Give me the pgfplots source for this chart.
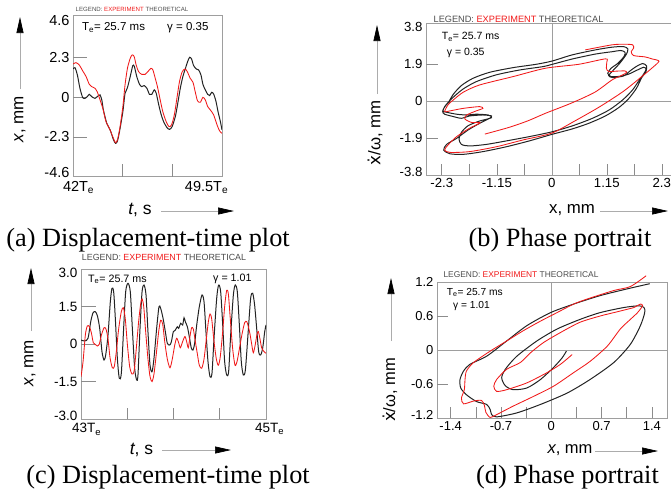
\documentclass[border=0pt]{standalone}
\usepackage{fontspec}
\setmainfont{Liberation Sans}
\newfontfamily\capfont{Liberation Serif}
\newfontfamily\dvs{DejaVu Sans}
\usepackage{pgfplots}
\pgfplotsset{compat=1.18}
\usetikzlibrary{arrows.meta}
\newcommand{\fs}[1]{\fontsize{#1}{#1}\selectfont}
\newcommand{\rb}[2]{\raisebox{#1}[\height][\depth]{#2}}
\definecolor{axgray}{gray}{0.62}
\definecolor{tkgray}{gray}{0.55}
\definecolor{expred}{RGB}{240,25,25}
\definecolor{thblack}{RGB}{35,35,35}
\definecolor{legg}{gray}{0.3}
\pgfplotsset{
 panel/.style={scale only axis, anchor=north west,
  axis line style={axgray, line width=0.7pt},
  tick style={tkgray, line width=0.6pt},
  tick pos=left, tick align=inside, major tick length=0pt,
  ticklabel style={font=\fs{13.5}}},
 th/.style={thblack, line width=1.0pt, smooth, tension=0.45, mark=none},
 ex/.style={expred, line width=0.85pt, smooth, tension=0.45, mark=none},
}
\tikzset{arr/.style={gray!65, line width=0.7pt, -{Triangle[length=16pt,width=7pt,color=black]}}}
\newcommand{\Te}{T\textsubscript{e}}
\newcommand{\legtext}{{\color{legg}LEGEND:} {\color{expred}EXPERIMENT} {\color{legg}THEORETICAL}}
\begin{document}
\begin{tikzpicture}
% ---------------- (a) ----------------
\begin{axis}[panel, at={(73pt,-15.4pt)}, width=149pt, height=161.2pt,
 xmin=42, xmax=49.5, ymin=-4.6, ymax=4.75,
 xtick={42,49.5},
 xticklabels={\makebox[0pt][l]{\hspace*{-10pt}42\Te},\makebox[0pt][l]{\hspace*{-37pt}49.5\Te}},
 xticklabel style={yshift=-1.5pt},
 ytick={-4.6,-2.3,0,2.3,4.6}, yticklabels={\rb{4.3pt}{-4.6},-2.3,0,2.3,\rb{-2.7pt}{4.6}},
 ticklabel style={font=\fs{14.5}},
 extra x ticks={44.5,47}, extra x tick labels={}, extra x tick style={major tick length=13pt},
 extra y ticks={-2.3,0,2.3}, extra y tick labels={}, extra y tick style={major tick length=14pt},
]
\addplot[th] coordinates {(42.00,1.64)(42.10,1.72)(42.22,1.30)(42.35,0.52)(42.49,-0.02)(42.61,-0.06)(42.72,0.04)(42.82,0.17)(42.94,0.04)(43.11,-0.06)(43.28,0.10)(43.36,0.14)(43.45,-0.15)(43.53,-0.73)(43.70,-1.51)(43.87,-1.89)(44.03,-2.44)(44.14,-2.67)(44.24,-2.53)(44.37,-1.80)(44.51,-0.83)(44.62,0.23)(44.74,0.56)(44.88,1.20)(45.01,1.84)(45.09,1.78)(45.21,1.20)(45.35,0.75)(45.46,0.62)(45.58,0.68)(45.72,0.52)(45.85,0.17)(45.97,0.17)(46.09,0.43)(46.19,0.23)(46.30,-0.35)(46.42,-0.93)(46.56,-1.41)(46.73,-1.76)(46.86,-1.86)(46.99,-1.70)(47.15,-1.12)(47.26,-0.44)(47.40,0.52)(47.53,1.20)(47.65,1.64)(47.77,2.07)(47.87,2.32)(47.97,2.22)(48.07,1.84)(48.21,1.64)(48.32,1.59)(48.44,1.30)(48.54,0.75)(48.66,0.43)(48.78,0.17)(48.88,0.10)(48.98,0.29)(49.08,0.19)(49.20,-0.25)(49.30,-0.83)(49.42,-1.41)(49.50,-1.89)};
\addplot[ex] coordinates {(42.00,1.93)(42.15,2.01)(42.32,1.87)(42.49,1.53)(42.66,1.20)(42.82,0.75)(42.94,0.62)(43.11,0.52)(43.23,0.29)(43.36,-0.15)(43.50,-0.64)(43.66,-1.41)(43.83,-1.80)(44.00,-2.28)(44.14,-2.63)(44.25,-2.42)(44.37,-1.70)(44.51,-0.54)(44.62,0.72)(44.74,1.68)(44.88,2.26)(44.98,2.46)(45.08,2.36)(45.18,1.87)(45.30,1.49)(45.46,1.33)(45.63,1.33)(45.80,1.53)(45.92,1.68)(46.02,1.59)(46.14,1.10)(46.25,0.62)(46.39,-0.15)(46.52,-0.83)(46.69,-1.41)(46.83,-1.70)(46.96,-1.60)(47.10,-1.02)(47.23,-0.06)(47.36,0.91)(47.50,1.49)(47.65,1.64)(47.77,1.45)(47.90,1.10)(48.04,0.87)(48.15,0.33)(48.27,-0.21)(48.41,-0.29)(48.54,0.00)(48.66,-0.15)(48.78,-0.54)(48.91,-0.73)(49.08,-1.02)(49.25,-1.60)(49.38,-1.95)(49.50,-2.09)};
\end{axis}
% ---------------- (b) ----------------
\begin{axis}[panel, at={(426pt,-23pt)}, width=251.6pt, height=152pt,
 xmin=-2.63, xmax=2.63, ymin=-3.8, ymax=4.0,
 xtick={-2.3,-1.15,0,1.15,2.3}, xticklabels={-2.3,-1.15,0,1.15,2.3},
 ytick={-3.8,-1.9,0,1.9,3.8}, yticklabels={\rb{2.7pt}{-3.8},-1.9,0,1.9,3.8},
 ticklabel style={font=\fs{13.2}},
 extra x ticks={-2.3,-1.725,-1.15,-0.575,0.575,1.15,1.725,2.3}, extra x tick labels={}, extra x tick style={major tick length=11pt},
 extra y ticks={-1.9,1.9}, extra y tick labels={}, extra y tick style={major tick length=12pt},
]
\draw[axgray, line width=0.6pt] (axis cs:0,-3.8) -- (axis cs:0,4.0);
\draw[axgray, line width=0.6pt] (axis cs:-2.63,0) -- (axis cs:2.63,0);
\addplot[th] coordinates {(-2.17,-0.12)(-2.06,0.34)(-1.89,0.79)(-1.65,1.16)(-1.30,1.47)(-0.81,1.71)(-0.33,1.88)(0.01,2.05)(0.42,2.36)(0.91,2.62)(1.26,2.76)(1.50,2.79)(1.59,2.67)(1.56,2.40)(1.42,1.93)(1.27,1.54)(1.19,1.30)(1.27,1.20)(1.50,1.28)(1.62,1.51)(1.76,1.76)(1.90,1.92)(1.98,1.80)(1.97,1.51)(1.88,1.20)(1.77,0.65)(1.60,0.10)(1.40,-0.34)(1.12,-0.77)(0.77,-1.15)(0.42,-1.44)(0.01,-1.71)(-0.47,-2.05)(-0.95,-2.35)(-1.44,-2.60)(-1.85,-2.74)(-2.13,-2.71)(-2.26,-2.52)(-2.20,-2.23)(-1.99,-1.92)(-1.75,-1.49)(-1.51,-1.15)(-1.30,-0.89)(-1.26,-0.77)(-1.44,-0.72)(-1.72,-0.77)(-1.89,-0.89)(-2.06,-0.80)(-2.24,-0.68)(-2.28,-0.55)(-2.24,-0.29)(-2.15,-0.03)(-2.03,0.26)(-1.85,0.62)(-1.58,0.99)(-1.16,1.34)(-0.67,1.59)(-0.19,1.76)(0.01,1.88)(0.44,2.16)(0.92,2.41)(1.27,2.53)(1.44,2.59)(1.53,2.50)(1.51,2.28)(1.38,1.93)(1.24,1.68)(1.17,1.42)(1.24,1.25)(1.44,1.27)(1.60,1.37)(1.79,1.59)(1.92,1.73)(1.97,1.64)(1.93,1.42)(1.83,1.08)(1.69,0.57)(1.48,0.05)(1.20,-0.46)(0.85,-0.89)(0.44,-1.27)(0.01,-1.58)(-0.47,-1.83)(-0.95,-2.05)(-1.37,-2.23)(-1.72,-2.31)(-1.89,-2.23)(-1.94,-1.95)(-1.89,-1.61)(-1.75,-1.27)(-1.51,-1.03)(-1.26,-0.86)(-1.33,-0.72)(-1.58,-0.68)(-1.78,-0.72)(-1.99,-0.68)(-2.20,-0.58)(-2.28,-0.51)(-2.22,-0.24)(-2.13,-0.03)};
\addplot[ex] coordinates {(-1.40,-1.70)(-0.90,-1.36)(-0.50,-1.02)(-0.13,-0.63)(0.40,-0.12)(0.90,0.45)(1.26,1.08)(1.45,1.30)(1.56,1.45)(1.53,1.54)(1.35,1.53)(1.19,1.51)(1.14,1.68)(1.15,2.00)(1.12,2.16)(0.56,1.88)(-0.13,1.68)(-0.81,1.25)(-1.51,0.82)(-1.85,0.45)(-2.06,0.05)(-2.17,-0.20)(-2.24,-0.55)(-2.13,-0.51)(-1.85,-0.38)(-1.51,-0.29)(-1.44,-0.38)(-1.58,-0.51)(-1.78,-0.72)(-1.82,-0.92)(-1.68,-1.10)(-1.50,-1.12)(-1.72,-1.40)(-1.99,-1.83)(-2.17,-2.26)(-2.24,-2.52)(-2.13,-2.64)(-1.72,-2.60)(-1.16,-2.35)(-0.60,-2.00)(0.00,-1.65)(0.50,-1.00)(1.00,-0.30)(1.50,0.50)(1.88,1.25)(2.09,1.68)(2.24,2.04)(2.09,2.16)(1.95,2.26)(1.71,2.33)(1.66,2.53)(1.71,2.71)(1.69,2.88)(1.53,2.91)(1.26,2.88)(0.70,2.62)};
\end{axis}
% ---------------- (c) ----------------
\begin{axis}[panel, at={(81pt,-269pt)}, width=185pt, height=150pt,
 xmin=43, xmax=45, ymin=-3, ymax=3,
 xtick={43,45},
 xticklabels={\makebox[0pt][l]{\hspace*{-9pt}43\Te},\makebox[0pt][l]{\hspace*{-11pt}45\Te}},
 xticklabel style={yshift=-1pt},
 ytick={-3,-1.5,0,1.5,3}, yticklabels={\rb{3.3pt}{-3.0},-1.5,0,1.5,\rb{-3.5pt}{3.0}},
 extra x ticks={43.5,44,44.5}, extra x tick labels={}, extra x tick style={major tick length=11pt},
 extra y ticks={-1.5,0,1.5}, extra y tick labels={}, extra y tick style={major tick length=15pt},
]
\addplot[th] coordinates {(43.000,0.16)(43.040,0.12)(43.076,0.23)(43.105,0.89)(43.130,1.25)(43.155,1.29)(43.177,1.13)(43.202,0.63)(43.227,-0.31)(43.249,-0.64)(43.267,-0.44)(43.292,0.36)(43.317,1.69)(43.335,2.23)(43.353,2.09)(43.371,1.03)(43.393,-0.57)(43.414,-1.37)(43.436,-1.17)(43.461,0.63)(43.483,2.09)(43.508,2.43)(43.533,2.09)(43.555,0.63)(43.580,-0.97)(43.602,-1.44)(43.616,-1.24)(43.638,0.63)(43.660,2.09)(43.681,2.36)(43.703,1.96)(43.724,0.49)(43.746,-0.84)(43.768,-1.11)(43.789,-0.57)(43.818,0.63)(43.843,1.49)(43.861,1.43)(43.887,1.03)(43.912,0.49)(43.933,0.03)(43.959,-0.04)(43.977,0.09)(43.998,0.49)(44.020,0.56)(44.041,0.69)(44.056,0.63)(44.078,0.83)(44.099,0.76)(44.114,1.05)(44.128,0.89)(44.150,0.69)(44.171,0.29)(44.193,-0.17)(44.211,-0.24)(44.229,0.03)(44.251,0.76)(44.279,1.49)(44.308,1.96)(44.330,1.69)(44.351,0.49)(44.373,-0.71)(44.395,-1.31)(44.416,-1.17)(44.438,0.23)(44.467,1.83)(44.488,2.36)(44.510,2.09)(44.532,0.76)(44.553,-0.71)(44.575,-1.24)(44.596,-1.11)(44.618,0.36)(44.647,1.96)(44.668,2.36)(44.690,2.09)(44.712,0.76)(44.733,-0.71)(44.755,-1.24)(44.777,-1.04)(44.805,0.36)(44.834,1.83)(44.856,2.03)(44.877,1.56)(44.899,0.63)(44.921,-0.31)(44.942,-0.44)(44.964,-0.17)(44.986,0.49)(45.000,0.76)};
\addplot[ex] coordinates {(43.000,-1.31)(43.022,-0.71)(43.047,0.36)(43.068,0.72)(43.090,0.70)(43.112,0.45)(43.133,0.05)(43.155,-0.02)(43.177,-0.08)(43.198,0.00)(43.220,0.35)(43.249,0.65)(43.270,0.60)(43.292,0.20)(43.314,-0.55)(43.339,-0.95)(43.360,-0.90)(43.382,-0.30)(43.407,0.60)(43.436,1.30)(43.458,1.45)(43.479,1.00)(43.501,0.00)(43.526,-0.90)(43.551,-1.20)(43.573,-1.10)(43.595,-0.30)(43.623,0.90)(43.645,1.60)(43.660,1.80)(43.678,1.50)(43.699,0.50)(43.724,-0.60)(43.746,-1.30)(43.768,-1.50)(43.789,-1.20)(43.814,-0.40)(43.840,0.50)(43.861,0.95)(43.883,0.80)(43.905,0.10)(43.933,-0.60)(43.962,-0.95)(43.987,-0.60)(44.013,-0.05)(44.034,0.23)(44.056,0.05)(44.074,-0.15)(44.099,0.10)(44.124,0.30)(44.142,0.10)(44.160,-0.15)(44.178,0.30)(44.196,0.65)(44.214,0.60)(44.236,0.10)(44.258,-0.40)(44.279,-0.85)(44.305,-0.97)(44.330,-0.60)(44.355,0.20)(44.377,0.90)(44.395,1.20)(44.413,1.00)(44.438,0.10)(44.463,-0.60)(44.485,-0.85)(44.506,-0.50)(44.532,0.50)(44.553,1.50)(44.575,2.15)(44.593,2.00)(44.614,1.00)(44.640,-0.20)(44.665,-0.85)(44.687,-0.70)(44.712,-0.20)(44.741,0.40)(44.769,0.85)(44.791,0.90)(44.809,0.70)(44.827,0.40)(44.845,0.00)(44.863,-0.35)(44.885,0.00)(44.903,0.40)(44.917,0.50)(44.935,0.20)(44.953,-0.15)(44.978,-0.30)(45.000,-0.37)};
\end{axis}
% ---------------- (d) ----------------
\begin{axis}[panel, at={(437pt,-282pt)}, width=230pt, height=136pt, clip=false,
 xmin=-1.59, xmax=1.61, ymin=-1.2, ymax=1.2,
 xtick={-1.4,-0.7,0,0.7,1.4}, xticklabels={-1.4,-0.7,0,0.7,1.4},
 ytick={-1.2,-0.6,0,0.6,1.2}, yticklabels={\rb{3pt}{-1.2},-0.6,0,0.6,1.2},
 ticklabel style={font=\fs{13}},
 extra x ticks={-1.4,-1.05,-0.7,-0.35,0.35,0.7,1.05,1.4}, extra x tick labels={}, extra x tick style={major tick length=11pt},
 extra y ticks={-0.6,0.6}, extra y tick labels={}, extra y tick style={major tick length=11pt},
]
\draw[axgray, line width=0.6pt] (axis cs:0,-1.2) -- (axis cs:0,1.2);
\draw[axgray, line width=0.6pt] (axis cs:-1.59,0) -- (axis cs:1.61,0);
\addplot[th] coordinates {(1.37,1.17)(1.06,1.08)(0.68,0.96)(0.31,0.81)(-0.01,0.66)(-0.34,0.43)(-0.62,0.16)(-0.90,-0.11)(-1.13,-0.25)(-1.22,-0.37)(-1.27,-0.52)(-1.26,-0.67)(-1.18,-0.79)(-1.04,-0.91)(-0.90,-0.96)(-0.85,-1.05)(-0.83,-1.14)(-0.76,-1.18)(-0.48,-1.11)(-0.15,-0.96)(0.22,-0.76)(0.54,-0.52)(0.87,-0.22)(1.10,0.10)(1.24,0.43)(1.30,0.66)(1.29,0.75)(1.22,0.78)(1.01,0.75)(0.68,0.66)(0.40,0.54)(0.08,0.37)(-0.20,0.16)(-0.48,-0.11)(-0.64,-0.34)(-0.69,-0.49)(-0.64,-0.63)(-0.53,-0.70)(-0.34,-0.67)(-0.15,-0.52)(0.03,-0.31)(0.15,-0.14)(0.21,-0.02)};
\addplot[ex] coordinates {(1.32,1.31)(1.10,1.12)(0.87,1.05)(0.50,0.90)(0.31,0.81)(0.08,0.66)(-0.15,0.51)(-0.39,0.34)(-0.62,0.16)(-0.85,-0.02)(-1.08,-0.22)(-1.18,-0.37)(-1.20,-0.52)(-1.21,-0.70)(-1.25,-0.85)(-1.22,-0.95)(-1.08,-0.90)(-0.97,-0.89)(-0.93,-0.98)(-0.91,-1.10)(-0.85,-1.19)(-0.76,-1.14)(-0.53,-0.99)(-0.25,-0.82)(0.03,-0.64)(0.31,-0.40)(0.54,-0.20)(0.78,0.07)(0.96,0.37)(1.10,0.54)(1.20,0.66)(1.27,0.78)(1.24,0.81)(1.15,0.75)(1.06,0.72)(0.87,0.66)(0.68,0.60)(0.40,0.49)(0.13,0.31)(-0.11,0.13)(-0.29,-0.05)(-0.43,-0.22)(-0.62,-0.34)(-0.76,-0.52)(-0.80,-0.64)(-0.76,-0.73)(-0.62,-0.70)(-0.34,-0.58)(-0.06,-0.40)(0.13,-0.25)(0.29,-0.08)};
\end{axis}
% ---------------- labels ----------------
% (a)
\node[font=\fs{6.1}] at (132pt,-9.5pt) {\legtext};
\node[font=\fs{11.5}, anchor=west, inner sep=0pt] at (82pt,-27.3pt) {\Te= 25.7 ms};
\node[font=\fs{11.5}, anchor=west, inner sep=0pt] at (167pt,-27.3pt) {γ = 0.35};
\node[font=\fs{17}, rotate=90] at (20pt,-119pt) {\textit{x}, mm};
\draw[arr] (20pt,-89pt) -- (20pt,-17pt);
\node[font=\fs{17.5}] at (140pt,-210pt) {\textit{t}, s};
\draw[arr] (161pt,-211pt) -- (234pt,-211pt);
\node[font=\capfont\fs{26.3}, anchor=base] at (148pt,-246pt) {(a) Displacement-time plot};
% (b)
\node[font=\fs{9.2}] at (518.5pt,-19pt) {\legtext};
\node[font=\fs{10.5}, anchor=west, inner sep=0pt] at (441.7pt,-36.7pt) {\Te= 25.7 ms};
\node[font=\fs{10.5}, anchor=west, inner sep=0pt] at (446.7pt,-53.3pt) {γ = 0.35};
\node[font=\fs{16.8}, rotate=90] at (375pt,-133pt) {{\dvs ẋ}/ω, mm};
\draw[arr] (377pt,-94pt) -- (377pt,-25pt);
\node[font=\fs{16.8}] at (572pt,-210pt) {x, mm};
\draw[arr] (600pt,-211pt) -- (668pt,-211pt);
\node[font=\capfont\fs{26.3}, anchor=base] at (560pt,-246pt) {(b) Phase portrait};
% (c)
\node[font=\fs{8.9}] at (164pt,-257.3pt) {\legtext};
\node[font=\fs{10.7}, anchor=west, inner sep=0pt] at (88pt,-279.3pt) {\Te= 25.7 ms};
\node[font=\fs{10.7}, anchor=west, inner sep=0pt] at (213pt,-279.3pt) {γ = 1.01};
\node[font=\fs{17}, rotate=90] at (30pt,-363pt) {\textit{x}, mm};
\draw[arr] (31pt,-331pt) -- (31pt,-268pt);
\node[font=\fs{17.5}] at (141.5pt,-450pt) {\textit{t}, s};
\draw[arr] (162pt,-450pt) -- (231pt,-450pt);
\node[font=\capfont\fs{26.3}, anchor=base] at (168pt,-483pt) {(c) Displacement-time plot};
% (d)
\node[font=\fs{8.4}] at (521pt,-274.3pt) {\legtext};
\node[font=\fs{10.2}, anchor=west, inner sep=0pt] at (446.7pt,-292.3pt) {\Te= 25.7 ms};
\node[font=\fs{10.2}, anchor=west, inner sep=0pt] at (453pt,-306pt) {γ = 1.01};
\node[font=\fs{16.5}, rotate=90] at (390pt,-390pt) {{\dvs ẋ}/ω, mm};
\draw[arr] (391pt,-341pt) -- (391pt,-278pt);
\node[font=\fs{16.5}] at (570pt,-450pt) {\textit{x}, mm};
\draw[arr] (595pt,-451pt) -- (658pt,-451pt);
\node[font=\capfont\fs{26.3}, anchor=base] at (567.5pt,-483pt) {(d) Phase portrait};
\pgfresetboundingbox
\path[use as bounding box] (0pt,0pt) rectangle (671pt,-491pt);
\end{tikzpicture}
\end{document}
